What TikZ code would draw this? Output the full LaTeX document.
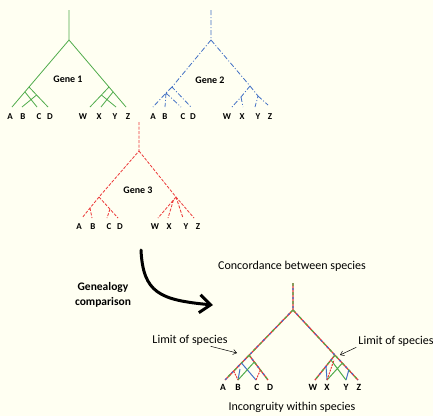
\documentclass[tikz,border=0pt]{standalone}
\usepackage{fontspec}
\setmainfont{Carlito}
\usetikzlibrary{arrows.meta}

\definecolor{bgcol}{RGB}{255,255,242}
\definecolor{gcol}{RGB}{80,172,76}
\definecolor{bcol}{RGB}{66,112,196}
\definecolor{rcol}{RGB}{236,56,56}

\tikzset{
    gone/.style={draw=gcol,line width=0.8pt},
    gtwo/.style={draw=bcol,line width=0.8pt,dash pattern=on 5pt off 2pt on 1pt off 2pt},
    gthree/.style={draw=rcol,line width=0.8pt,dash pattern=on 3pt off 1.5pt},
    leaf/.style={font=\bfseries\fontsize{9}{10}\selectfont,inner sep=0pt},
    bigleaf/.style={font=\bfseries\fontsize{9.5}{11}\selectfont,inner sep=0pt},
    genename/.style={font=\bfseries\fontsize{10}{12}\selectfont,inner sep=1pt},
    caption/.style={font=\fontsize{12}{14}\selectfont,inner sep=1pt},
    mixr/.style={draw=rcol,line width=1.3pt},
    mixg/.style={draw=gcol,line width=1.3pt,dash pattern=on 3pt off 6pt},
    mixb/.style={draw=bcol,line width=1.3pt,dash pattern=on 2pt off 7pt,dash phase=4pt},
}

\begin{document}
\begin{tikzpicture}[x=1pt,y=-1pt]
    \fill[bgcol] (0,0) rectangle (433,416);
    \useasboundingbox (0,0) rectangle (433,416);

    % Gene 1
    \foreach \n/\x in {A/12,B/22,C/37,D/48,W/90,X/101,Y/116,Z/126}{
        \coordinate (g1\n) at (\x,107);
    }
    \coordinate (g1top) at (69,10);
    \coordinate (g1root) at (69,40);
    \coordinate (g1a) at (29,87);
    \coordinate (g1b) at (25,92);
    \coordinate (g1c) at (36.6,95);
    \coordinate (g1e) at (109,87);
    \coordinate (g1f) at (113,92);
    \coordinate (g1g) at (101.4,95);
    \draw[gone] (g1top) -- (g1root) -- (g1A) (g1root) -- (g1Z);
    \draw[gone] (g1a) -- (g1D) (g1b) -- (g1C) (g1B) -- (g1c);
    \draw[gone] (g1e) -- (g1W) (g1f) -- (g1X) (g1Y) -- (g1g);
    \foreach \n/\x in {A/10,B/23,C/39,D/50,W/83,X/99,Y/115,Z/128}{
        \node[leaf] (g1l\n) at (\x,117) {\n};
    }
    \node[genename] (g1name) at (68,79) {Gene 1};

    % Gene 2
    \foreach \n/\x in {A/153,B/165,C/181,D/191,W/232,X/243,Y/255}{
        \coordinate (g2\n) at (\x,107);
    }
    \coordinate (g2Z) at (268,105);
    \coordinate (g2top) at (211,10);
    \coordinate (g2root) at (211,40);
    \coordinate (g2l1) at (172,87);
    \coordinate (g2l2) at (166,93);
    \coordinate (g2r1) at (250,86);
    \coordinate (g2r2) at (241,97);
    \coordinate (g2r3) at (258,96);
    \draw[gtwo] (g2top) -- (g2root) -- (g2l1) -- (g2D) (g2l1) -- (g2l2) -- (g2A)
        (g2l2) -- (g2B) (g2l2) -- (g2C);
    \draw[gtwo] (g2root) -- (g2r1) -- (g2r2) -- (g2W) (g2r2) -- (g2X)
        (g2r1) -- (g2r3) -- (g2Y) (g2r3) -- (g2Z);
    \foreach \n/\x in {A/153,B/165,C/183,D/193,W/227,X/242,Y/258,Z/270}{
        \node[leaf] (g2l\n) at (\x,117) {\n};
    }
    \node[genename] (g2name) at (210,80) {Gene 2};

    % Gene 3
    \foreach \n/\x in {A/82,B/92,C/107,D/118,W/158,X/168,Y/183,Z/194}{
        \coordinate (g3\n) at (\x,218);
    }
    \coordinate (g3top) at (139,122);
    \coordinate (g3root) at (139,151);
    \coordinate (g3l1) at (99,197);
    \coordinate (g3l2) at (90,208);
    \coordinate (g3l3) at (110,209);
    \coordinate (g3r1) at (176,197);
    \coordinate (g3r2) at (173.5,200);
    \draw[gthree] (g3top) -- (g3root) -- (g3l1) -- (g3l2) -- (g3A) (g3l2) -- (g3B)
        (g3l1) -- (g3D) (g3l3) -- (g3C);
    \draw[gthree] (g3root) -- (g3r1) -- (g3Z) (g3r1) -- (g3W) (g3r2) -- (g3X) (g3r1) -- (g3Y);
    \foreach \n/\x in {A/79,B/93,C/109,D/120,W/155,X/169,Y/186,Z/198}{
        \node[leaf] (g3l\n) at (\x,227) {\n};
    }
    \node[genename] (g3name) at (138,190) {Gene 3};

    % comparison arrow
    \coordinate (arrstart) at (141,250);
    \coordinate (arrend) at (213,305);
    \draw[line width=3pt,line cap=round,-{Straight Barb[length=11pt,width=18pt]}]
        (arrstart) .. controls (143,293) and (160,300) .. (arrend);
    \node[font=\bfseries\fontsize{11.5}{15}\selectfont,align=center] (gencmp) at (103,295) {Genealogy\\comparison};

    % species tree
    \foreach \n/\x in {A/225,B/238,C/256,D/268,W/315,X/327,Y/346,Z/358}{
        \coordinate (c\n) at (\x,380);
    }
    \coordinate (ctop) at (293,283);
    \coordinate (croot) at (293,310);
    \coordinate (cla) at (249,355);
    \coordinate (cra) at (335,355);
    \foreach \s in {mixr,mixg,mixb}{
        \draw[\s] (ctop) -- (croot) -- (cA) (croot) -- (cZ) (cla) -- (cD) (cra) -- (cW);
    }
    \coordinate (cp1) at (241.5,363);
    \coordinate (cp2) at (233.7,371);
    \coordinate (cp3) at (240,369);
    \coordinate (cq1) at (254.3,362);
    \coordinate (cq2) at (260.4,370);
    \draw[bcol,line width=1pt] (cp1) -- (cC) (cB) -- (cp3);
    \draw[gcol,line width=1pt] (cq1) -- (cB);
    \draw[rcol,line width=1pt,dash pattern=on 2pt off 1pt] (cp2) -- (cB) (cC) -- (cq2);
    \coordinate (cr1) at (326,366);
    \coordinate (cr2) at (334,360);
    \coordinate (cr3) at (331,360);
    \coordinate (cs1) at (342.4,363);
    \coordinate (cs2) at (348.8,370);
    \draw[bcol,line width=1pt] (cr1) -- (cX) (cY) -- (cs2);
    \draw[gcol,line width=1pt] (cr3) -- (cY) (cs1) -- (cX);
    \draw[rcol,line width=1pt,dash pattern=on 2pt off 1pt] (cX) -- (cr2);
    \foreach \n/\x in {A/223,B/238,C/257,D/270,W/313,X/327,Y/346,Z/359}{
        \node[bigleaf] (cl\n) at (\x,387) {\n};
    }

    \node[caption] (concord) at (292,266) {Concordance between species};
    \node[caption] (limleft) at (190,340) {Limit of species};
    \node[caption] (limright) at (396,341) {Limit of species};
    \node[caption] (incong) at (292,407) {Incongruity within species};
    \coordinate (limla) at (237,353);
    \coordinate (limra) at (340,355);
    \draw[-{Straight Barb[length=3.5pt,width=5pt]},line width=0.5pt] ([xshift=-18pt]limleft.south east) -- (limla);
    \draw[-{Straight Barb[length=3.5pt,width=5pt]},line width=0.5pt] ([xshift=-1pt]limright.south west) -- (limra);
\end{tikzpicture}
\end{document}
